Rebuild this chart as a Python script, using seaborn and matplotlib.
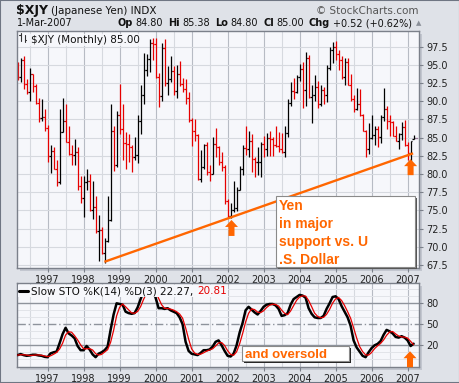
import numpy as np
import pandas as pd
import matplotlib
matplotlib.use("Agg")
import matplotlib.pyplot as plt
from matplotlib.patches import Polygon, Rectangle
from matplotlib.lines import Line2D
from matplotlib.transforms import IdentityTransform
import seaborn as sns

# ---------------- data (monthly $XJY, Mar 1996 .. Mar 2007) ----------------
start_month = "1996-03"

opens = [95.24, 93.28, 95.69, 92.34, 91.24, 93.72, 92.08, 89.77, 87.72, 87.87,
         86.36, 82.51, 83.19, 80.71, 78.86, 85.84, 87.26, 84.46, 82.78, 82.64, 83.06, 78.37,
         76.69, 78.93, 79.11, 75.02, 75.53, 72.15, 72.31, 69.16, 70.77, 73.64, 85.98, 81.23,
         88.18, 86.21, 84.32, 84.10, 83.68, 82.30, 82.64, 87.26, 90.91, 94.34, 95.79, 97.94,
         97.85, 93.37, 90.66, 97.28, 92.51, 93.02, 94.16, 91.41, 93.72, 92.42, 91.74, 90.50,
         87.41, 85.91, 85.40, 79.30, 80.91, 83.96, 80.26, 80.00, 84.10, 83.75, 81.70, 81.04,
         76.34, 74.24, 75.02, 75.36, 77.88, 80.65, 83.61, 83.47, 84.53, 82.10, 81.63, 81.63,
         84.18, 83.47, 84.89, 84.75, 84.03, 83.82, 83.47, 83.06, 85.69, 89.77, 91.41, 91.24,
         93.28, 94.43, 91.58, 95.97, 90.58, 90.83, 91.91, 89.69, 91.49, 90.91, 94.52, 96.99,
         97.47, 96.53, 95.60, 93.37, 95.42, 92.25, 90.25, 88.97, 89.61, 88.11, 85.91, 83.47,
         84.89, 85.32, 86.21, 85.03, 87.87, 88.89, 87.34, 87.18, 85.18, 84.60, 85.47, 86.43,
         84.03, 82.85, 84.80]

highs = [95.33, 95.97, 96.15, 93.02, 94.52, 93.81, 92.34, 90.50, 90.25, 88.89,
         86.73, 84.03, 83.68, 81.97, 88.89, 90.42, 89.69, 86.58, 84.03, 84.75, 83.68, 79.68,
         79.68, 80.65, 80.00, 79.05, 76.92, 74.35, 72.73, 71.17, 76.92, 89.69, 86.58, 88.65,
         92.34, 89.69, 85.84, 85.47, 84.03, 85.11, 88.11, 92.17, 96.62, 96.43, 98.52, 98.62,
         98.72, 93.90, 98.04, 98.52, 94.88, 96.25, 94.79, 94.97, 95.51, 93.20, 93.02, 91.32,
         87.72, 87.57, 85.47, 83.33, 84.10, 84.39, 81.30, 85.11, 86.36, 83.89, 82.99, 81.30,
         76.63, 76.05, 79.05, 78.25, 81.17, 84.03, 86.58, 85.98, 85.54, 82.30, 83.68, 84.39,
         85.25, 85.69, 85.98, 85.11, 86.58, 85.84, 85.62, 86.58, 90.25, 92.59, 93.20, 93.63,
         95.06, 95.42, 96.71, 96.34, 92.17, 93.55, 92.76, 92.25, 91.91, 94.97, 97.47, 98.14,
         98.33, 97.09, 96.25, 95.97, 95.88, 93.72, 90.91, 91.83, 91.74, 88.26, 86.06, 86.96,
         88.18, 86.66, 86.58, 88.11, 91.83, 89.29, 88.11, 87.26, 86.66, 85.62, 87.11, 87.41,
         84.39, 84.60, 85.38]

lows = [92.94, 92.59, 91.74, 90.99, 90.09, 91.32, 89.61, 87.11, 87.34, 85.98,
        81.63, 80.19, 80.65, 78.43, 78.62, 85.84, 84.39, 82.64, 81.30, 81.30, 77.82, 76.05,
        74.07, 77.82, 74.91, 73.86, 71.94, 68.12, 68.97, 67.75, 70.67, 73.53, 80.39, 80.91,
        85.47, 81.97, 80.65, 81.63, 80.32, 81.97, 81.57, 85.47, 89.61, 93.46, 94.07, 95.69,
        93.20, 89.21, 90.09, 92.08, 90.91, 92.68, 90.91, 90.50, 92.08, 91.32, 89.69, 87.11,
        83.82, 84.60, 79.18, 78.86, 80.65, 79.87, 78.99, 80.00, 82.30, 81.30, 80.45, 75.93,
        74.07, 73.96, 74.74, 74.91, 77.76, 79.87, 82.64, 82.30, 80.32, 79.55, 79.87, 79.55,
        82.30, 82.51, 82.44, 82.44, 83.68, 82.99, 82.85, 82.30, 85.11, 89.29, 90.25, 91.07,
        92.76, 89.13, 89.29, 90.42, 87.03, 90.09, 89.05, 89.37, 89.69, 89.85, 94.34, 95.24,
        95.69, 94.34, 93.02, 92.17, 92.17, 90.09, 88.50, 88.81, 88.03, 85.91, 82.37, 82.78,
        84.75, 84.03, 83.75, 84.25, 87.34, 86.21, 85.18, 85.18, 84.53, 83.40, 84.67, 83.82,
        81.97, 81.83, 84.80]

closes = [93.28, 95.69, 92.34, 91.24, 93.72, 92.08, 89.77, 87.72, 87.87, 86.36,
          82.51, 83.19, 80.71, 78.86, 85.84, 87.26, 84.46, 82.78, 82.64, 83.06, 78.37, 76.69,
          78.93, 79.11, 75.02, 75.53, 72.15, 72.31, 69.16, 70.77, 73.64, 85.98, 81.23, 88.18,
          86.21, 84.32, 84.10, 83.68, 82.30, 82.64, 87.26, 90.91, 94.34, 95.79, 97.94, 97.85,
          93.37, 90.66, 97.28, 92.51, 93.02, 94.16, 91.41, 93.72, 92.42, 91.74, 90.50, 87.41,
          85.91, 85.40, 79.30, 80.91, 83.96, 80.26, 80.00, 84.10, 83.75, 81.70, 81.04, 76.34,
          74.24, 75.02, 75.36, 77.88, 80.65, 83.61, 83.47, 84.53, 82.10, 81.63, 81.63, 84.18,
          83.47, 84.89, 84.75, 84.03, 83.82, 83.47, 83.06, 85.69, 89.77, 91.41, 91.24, 93.28,
          94.43, 91.58, 95.97, 90.58, 90.83, 91.91, 89.69, 91.49, 90.91, 94.52, 96.99, 97.47,
          96.53, 95.60, 93.37, 95.42, 92.25, 90.25, 88.97, 89.61, 88.11, 85.91, 83.47, 84.89,
          85.32, 86.21, 85.03, 87.87, 88.89, 87.34, 87.18, 85.18, 84.60, 85.47, 86.43, 84.03,
          82.85, 84.48, 85.00]

stoch_k = [6, 7.5, 6, 5, 5.5, 6.5, 6.5, 5.5, 5, 3.5,
           3, 8.5, 10, 11, 23, 36, 45, 37, 34, 30,
           19, 13, 13, 19, 14, 7, 3, 8, 10, 13,
           18, 42, 64, 80, 79, 78, 68, 66, 65, 66,
           74, 86, 97, 100, 101, 100, 88, 73, 73, 72,
           73, 70, 68, 66, 60, 50, 25, 12, 8, 7,
           6, 9, 13, 13, 14, 18, 25, 27, 20, 12,
           5, 4, 8, 20, 38, 52, 70, 75, 71, 67,
           64, 69, 75, 78, 79, 79, 77, 72, 62, 63,
           66, 78, 86, 89, 92, 91, 88, 73, 65, 60,
           59, 59, 62, 72, 80, 89, 90, 86, 76, 68,
           60, 48, 27, 17, 11, 5, 3, 10, 16, 20,
           22, 26, 35, 42, 40, 37, 32, 31, 33, 31,
           27, 19, 22.27]

stoch_d = [6, 6.5, 6.5, 6, 5.5, 5.7, 6.2, 6.2, 5.7, 4.7,
           3.8, 5, 7.2, 9.8, 14.7, 23, 34.7, 39.3, 38.7, 33.7,
           27.7, 20.7, 15, 15, 15.3, 13.3, 8, 6, 7, 10.3,
           13.7, 24.3, 41.3, 62, 74.3, 79, 75, 70.7, 66.3, 65.7,
           68.3, 75.3, 85.7, 94.3, 99.3, 100.3, 96.3, 87, 78, 72.7,
           72.7, 71.7, 70.3, 68, 64.7, 58.7, 45, 29, 15, 9,
           7, 7.3, 9.3, 11.7, 13.3, 15, 19, 23.3, 24, 19.7,
           12.3, 7, 5.7, 10.7, 22, 36.7, 53.3, 65.7, 72, 71,
           67.3, 66.7, 69.3, 74, 77.3, 78.7, 78.3, 76, 70.3, 65.7,
           63.7, 69, 76.7, 84.3, 89, 90.7, 90.3, 84, 75.3, 66,
           61.3, 59.3, 60, 64.3, 71.3, 80.3, 86.3, 88.3, 84, 76.7,
           68, 58.7, 45, 30.7, 18.3, 11, 6.3, 6, 9.7, 15.3,
           19.3, 22.7, 27.7, 34.3, 39, 39.7, 36.3, 33.3, 32, 31.7,
           30.3, 25.7, 20.81]

price_ticks = [67.5, 70.0, 72.5, 75.0, 77.5, 80.0, 82.5, 85.0, 87.5, 90.0, 92.5, 95.0, 97.5]
sto_ticks = [20, 50, 80]

# trendline (month index, price) and arrow anchors
trend_x = [28.93, 131.83]
trend_y = [67.95, 82.85]
arrow_x = [71.3, 131.0]
arrow_y = [73.7, 82.05]
sto_arrow_x = [130.8]
sto_arrow_y = [11.5]

header_title = "$XJY"
header_sub = "(Japanese Yen) INDX"
header_date = "1-Mar-2007"
header_parts = [("Op", True), ("84.80", False), ("Hi", True), ("85.38", False),
                ("Lo", True), ("84.80", False), ("Cl", True), ("85.00", False),
                ("Chg", True), ("+0.52 (+0.62%)", False)]
note1 = ["Yen", "in major", "support vs. U", ".S. Dollar"]
note2 = "and oversold"

# ---------------- style ----------------
sns.set_theme(style="white")
plt.rcParams['font.family'] = ['DejaVu Sans']

W, H = 460, 383
BG = '#dfe2e8'
PLOT_BG = '#f6f7fb'
RED = '#e60000'
ORANGE = '#ff6600'
GRID = '#d6d9df'
GRID_DARK = '#b7bbc4'
SPINE = '#7b808a'

fig = plt.figure(figsize=(W / 100, H / 100), dpi=100)
fig.patch.set_facecolor(BG)
renderer = fig.canvas.get_renderer()


def fx(x):
    return x / W


def fy(y):
    return 1 - y / H


def rect(x0, y0, x1, y1):
    return [fx(x0), fy(y1), fx(x1) - fx(x0), fy(y0) - fy(y1)]


# panel shadows (behind the axes)
for (x0, y0, x1, y1) in [(17, 31, 419, 268), (17, 283, 419, 367)]:
    fig.add_artist(Rectangle((fx(x0 + 3), fy(y1 + 3)), fx(x1) - fx(x0), fy(y0) - fy(y1),
                             transform=fig.transFigure, fc='#c2c6cf', ec='none', zorder=-5))

ax = fig.add_axes(rect(17, 31, 419, 268))
ax2 = fig.add_axes(rect(17, 283, 419, 367))
ax.set_zorder(1)
ax2.set_zorder(1)

n = len(closes)
idx = np.arange(n)
periods = pd.period_range(start_month, periods=n, freq='M')
jan_idx = [i for i, p in enumerate(periods) if p.month == 1]
jul_idx = [i for i, p in enumerate(periods) if p.month == 7]
years = [str(periods[i].year) for i in jan_idx]

XMIN, XMAX = -0.2, 133.8

df = pd.DataFrame({'i': idx, 'open': opens, 'high': highs, 'low': lows, 'close': closes,
                   'k': stoch_k, 'd': stoch_d})
prev_close = np.r_[df['open'].iloc[0], df['close'].values[:-1]]
bar_colors = np.where(df['close'].values < prev_close, RED, 'black')

for a in (ax, ax2):
    a.set_facecolor(PLOT_BG)
    a.set_xlim(XMIN, XMAX)
    for s in a.spines.values():
        s.set_color(SPINE)
        s.set_linewidth(1.0)
    for i in jul_idx:
        a.axvline(i, color=GRID, lw=0.8, zorder=0)
    for i in jan_idx:
        a.axvline(i, color=GRID_DARK, lw=0.8, zorder=0)
    a.set_xticks(jan_idx)
    a.set_xticklabels(years)
    a.tick_params(axis='x', labelsize=7, length=3, width=0.8, color=SPINE, pad=2,
                  labelcolor='#222222', bottom=True)
    a.yaxis.tick_right()
    a.tick_params(axis='y', labelsize=7, length=3, width=0.8, color=SPINE, pad=2,
                  labelcolor='#222222', right=True, left=False)
    a.set_xlabel('')
    a.set_ylabel('')

# ---- price panel ----
ax.set_ylim(67.1, 99.65)
for v in price_ticks:
    ax.axhline(v, color=GRID, lw=0.8, zorder=0)
ax.set_yticks(price_ticks)
ax.set_yticklabels([f"{v:.1f}" for v in price_ticks])

ax.vlines(df['i'], df['low'], df['high'], colors=bar_colors, lw=0.9, zorder=2)
ax.hlines(df['open'], df['i'] - 0.45, df['i'], colors=bar_colors, lw=0.9, zorder=2)
ax.hlines(df['close'], df['i'], df['i'] + 0.45, colors=bar_colors, lw=0.9, zorder=2)
ax.plot([n - 0.5, XMAX], [closes[-1], closes[-1]], ls=(0, (2, 1.2)), color='#9a7a9a', lw=0.9, zorder=2)
ax.plot(trend_x, trend_y, color=ORANGE, lw=1.7, solid_capstyle='butt', zorder=3)

# ---- stochastics panel ----
ax2.set_ylim(-11, 109)
for v in [0, 10, 30, 40, 60, 70, 90, 100]:
    ax2.axhline(v, color='#e2e4e9', lw=0.7, zorder=0)
ax2.axhline(20, color='#8e939c', lw=1.0, zorder=1)
ax2.axhline(80, color='#8e939c', lw=1.0, zorder=1)
ax2.axhline(50, color='#8e939c', lw=1.0, ls=(0, (6, 2, 1, 2)), zorder=1)
ax2.set_yticks(sto_ticks)
ax2.set_yticklabels([str(v) for v in sto_ticks])
sns.lineplot(data=df, x='i', y='k', ax=ax2, color='black', lw=1.8, zorder=3)
sns.lineplot(data=df, x='i', y='d', ax=ax2, color=RED, lw=0.9, zorder=4)
ax2.set_xlim(XMIN, XMAX)
ax2.set_xlabel('')
ax2.set_ylabel('')

# ---- header texts ----
tt = fig.text(fx(16), fy(14), header_title, fontsize=9, fontweight='bold', color='#111111', va='baseline')
tw = tt.get_window_extent(renderer).width
fig.text(fx(16 + tw + 3), fy(13.5), header_sub, fontsize=7.5, color='#111111', va='baseline')
fig.text(fx(419), fy(13.5), "\u00a9 StockCharts.com", fontsize=7.5, color='#555555', va='baseline', ha='right')
fig.text(fx(17), fy(26), header_date, fontsize=7, color='#111111', va='baseline')

xpos = 118
for k, (s, bold) in enumerate(header_parts):
    t = fig.text(fx(xpos), fy(26), s, fontsize=7, fontweight='bold' if bold else 'normal',
                 color='#111111', va='baseline')
    w = t.get_window_extent(renderer).width
    xpos += w + (2.5 if bold else 5)
fig.text(fx(xpos - 1), fy(25.5), "\u25b2", fontsize=5, color='#8a8f98', va='baseline')

# panel labels
ax.text(0.036, 0.985, "$XJY (Monthly) 85.00", transform=ax.transAxes, fontsize=7.5,
        color='#111111', va='top', ha='left', zorder=5,
        bbox=dict(boxstyle='square,pad=0.1', fc=PLOT_BG, ec='none', alpha=0.85))
for xs, ys in [((21, 21), (41, 33)), ((19.5, 21), (35, 35)), ((25, 25), (42, 35)), ((25, 26.5), (40, 40))]:
    fig.add_artist(Line2D([fx(xs[0]), fx(xs[1])], [fy(ys[0]), fy(ys[1])], color='#333333', lw=0.8, zorder=6))

t1 = fig.text(fx(31.5), fy(294), "Slow STO %K(14) %D(3) 22.27, ", fontsize=7.5, color='#111111',
              va='baseline', zorder=6)
w1 = t1.get_window_extent(renderer).width
t2 = fig.text(fx(31.5 + w1), fy(294), "20.81", fontsize=7.5, color=RED, va='baseline', zorder=6)
w2 = t2.get_window_extent(renderer).width
fig.add_artist(Rectangle((fx(18), fy(297)), fx(33 + w1 + w2) - fx(18), fy(284.5) - fy(297),
                         transform=fig.transFigure, fc=PLOT_BG, ec='none', zorder=5.5))
fig.add_artist(Line2D([fx(19), fx(28)], [fy(290.5), fy(290.5)], color='black', lw=2.2, zorder=6))


# ---- annotations ----
def up_arrow(a, x, y):
    px, py = a.transData.transform((x, y))
    hw, hh, sw, th = 6.5, 7.0, 3.0, 16.0
    verts = [(px, py), (px + hw, py - hh), (px + sw, py - hh), (px + sw, py - th),
             (px - sw, py - th), (px - sw, py - hh), (px - hw, py - hh)]
    fig.add_artist(Polygon(verts, closed=True, transform=IdentityTransform(),
                           fc=ORANGE, ec='none', zorder=9))


for x, y in zip(arrow_x, arrow_y):
    up_arrow(ax, x, y)
for x, y in zip(sto_arrow_x, sto_arrow_y):
    up_arrow(ax2, x, y)


def box(x0, y0, x1, y1, sh, shc):
    fig.add_artist(Rectangle((fx(x0 + sh), fy(y1 + sh)), fx(x1) - fx(x0), fy(y0) - fy(y1),
                             transform=fig.transFigure, fc=shc, ec='none', zorder=6))
    fig.add_artist(Rectangle((fx(x0), fy(y1)), fx(x1) - fx(x0), fy(y0) - fy(y1),
                             transform=fig.transFigure, fc='white', ec='#8a8a8a', lw=0.8, zorder=7))


box(276, 196, 415, 267, 1.5, '#555555')
for line, yb in zip(note1, [210.7, 228.8, 246.9, 265.0]):
    fig.text(fx(279), fy(yb - 1), line, fontsize=10, fontweight='bold', color=ORANGE,
             family=['Liberation Sans', 'DejaVu Sans'], va='baseline', zorder=8)

box(242, 346, 349, 361, 2, '#222222')
fig.text(fx(245), fy(358), note2, fontsize=9.5, fontweight='bold', color=ORANGE,
         family=['Liberation Sans', 'DejaVu Sans'], va='baseline', zorder=8)

# outer frame
fig.add_artist(Rectangle((0, 0), 1, 1, transform=fig.transFigure, fill=False, ec='#6f7683', lw=1.5, zorder=10))

fig.savefig("out.png", dpi=100, facecolor=fig.get_facecolor())
